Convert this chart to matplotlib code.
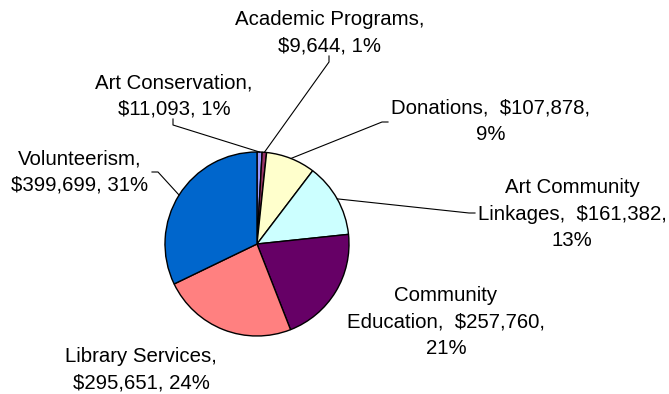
import matplotlib.pyplot as plt
import numpy as np

# Slices in drawing order, clockwise from 12 o'clock
names = ["Art Conservation", "Academic Programs", "Donations",
         "Art Community Linkages", "Community Education",
         "Library Services", "Volunteerism"]
values = [11093, 9644, 107878, 161382, 257760, 295651, 399699]
percents = [1, 1, 9, 13, 21, 24, 31]
colors = ["#9999FF", "#993366", "#FFFFCC", "#CCFFFF",
          "#660066", "#FF8080", "#0066CC"]


def money(v):
    return "${:,}".format(v)


# label lines as Excel wrapped them
label_lines = [
    [f"{names[0]},", f"{money(values[0])}, {percents[0]}%"],
    [f"{names[1]},", f"{money(values[1])}, {percents[1]}%"],
    [f"{names[2]},  {money(values[2])},", f"{percents[2]}%"],
    ["Art Community", f"Linkages,  {money(values[3])},", f"{percents[3]}%"],
    ["Community", f"Education,  {money(values[4])},", f"{percents[4]}%"],
    [f"{names[5]},", f"{money(values[5])}, {percents[5]}%"],
    [f"{names[6]},", f"{money(values[6])}, {percents[6]}%"],
]

W, H = 669, 394
# label centre x and first baseline y, in pixels from top-left
label_pos = [(174, 88), (330, 25), (491, 113), (572, 193),
             (446, 301), (141, 362), (80, 164)]
line_pitch = 26.5
# where the leader line meets the label (None = no leader)
leader_start = [(173, 125), (329, 62), (388, 122), (475, 213),
                None, None, (152, 172)]

plt.rcParams['font.family'] = ['Liberation Sans', 'DejaVu Sans']

fig = plt.figure(figsize=(W / 100, H / 100), dpi=100)
ax = fig.add_axes([0, 0, 1, 1])

cx, cy, r = 257, H - 244, 92
wedges, _ = ax.pie(values, colors=colors, startangle=90, counterclock=False,
                   center=(cx, cy), radius=r,
                   wedgeprops=dict(edgecolor="black", linewidth=1.0))

ax.set_xlim(0, W)
ax.set_ylim(0, H)
ax.set_aspect("equal")
ax.axis("off")

for i, w in enumerate(wedges):
    lx, ly = label_pos[i]
    for k, line in enumerate(label_lines[i]):
        ax.text(lx, H - (ly + k * line_pitch), line, ha="center",
                va="baseline", fontsize=14.7, color="black")
    if leader_start[i] is None:
        continue
    mid = np.deg2rad((w.theta1 + w.theta2) / 2)
    ex, ey = cx + r * np.cos(mid), cy + r * np.sin(mid)
    sx, sy = leader_start[i]
    sy = H - sy
    # small elbow next to the label, then straight to the slice
    if i in (0, 1):
        pts = [(sx, sy + 6), (sx, sy), (ex, ey)]
    elif i == 6:
        pts = [(sx, sy), (sx + 6, sy), (ex, ey)]
    else:
        pts = [(sx, sy), (sx - 6, sy), (ex, ey)]
    xs, ys = zip(*pts)
    ax.plot(xs, ys, color="black", linewidth=0.8)

fig.savefig("out.png", dpi=100)
